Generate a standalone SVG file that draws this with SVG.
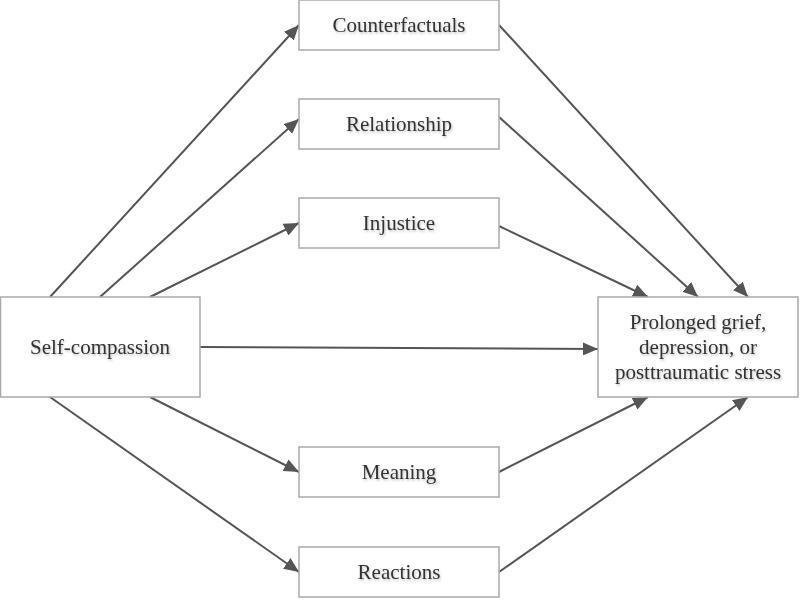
<svg xmlns="http://www.w3.org/2000/svg" width="800" height="600" viewBox="0 0 800 600">
<style>
.box{fill:#fff;stroke:#aaa;stroke-width:1.5}
.lbl{font-family:"Liberation Serif","Times New Roman",serif;font-size:21px;fill:#333;text-anchor:middle;filter:url(#sh)}
.edge{stroke:#555;stroke-width:2;fill:none;marker-end:url(#ah)}
</style>
<defs>
<marker id="ah" markerUnits="userSpaceOnUse" markerWidth="17" markerHeight="13" refX="15" refY="6.5" orient="auto">
<path d="M0,0 L15,6.5 L0,13 z" fill="#555"/>
</marker>
<filter id="sh" x="-10%" y="-20%" width="120%" height="150%">
<feDropShadow dx="1" dy="1.5" stdDeviation="0.8" flood-color="#000" flood-opacity="0.25"/>
</filter>
</defs>
<rect width="800" height="600" fill="#fff"/>
<g id="edges">
<line class="edge" x1="50" y1="297" x2="299" y2="25"/>
<line class="edge" x1="100" y1="297" x2="299" y2="119"/>
<line class="edge" x1="150" y1="297" x2="299" y2="223"/>
<line class="edge" x1="200" y1="347" x2="598" y2="349"/>
<line class="edge" x1="150" y1="397" x2="299" y2="472"/>
<line class="edge" x1="50" y1="397" x2="299" y2="572"/>
<line class="edge" x1="499" y1="25" x2="748" y2="297"/>
<line class="edge" x1="499" y1="117" x2="698" y2="297"/>
<line class="edge" x1="499" y1="226" x2="648" y2="297"/>
<line class="edge" x1="499" y1="472" x2="648" y2="397"/>
<line class="edge" x1="499" y1="572" x2="748" y2="397"/>
</g>
<g id="selfcompassion">
<rect class="box" x="0.5" y="297" width="199.5" height="100"/>
<text class="lbl" x="100" y="354">Self-compassion</text>
</g>
<g id="counterfactuals">
<rect class="box" x="299" y="0" width="200" height="50"/>
<text class="lbl" x="399" y="32">Counterfactuals</text>
</g>
<g id="relationship">
<rect class="box" x="299" y="99" width="200" height="50"/>
<text class="lbl" x="399" y="131">Relationship</text>
</g>
<g id="injustice">
<rect class="box" x="299" y="198" width="200" height="50"/>
<text class="lbl" x="399" y="230">Injustice</text>
</g>
<g id="meaning">
<rect class="box" x="299" y="447" width="200" height="50"/>
<text class="lbl" x="399" y="479">Meaning</text>
</g>
<g id="reactions">
<rect class="box" x="299" y="547" width="200" height="50"/>
<text class="lbl" x="399" y="579">Reactions</text>
</g>
<g id="outcome">
<rect class="box" x="598" y="297" width="200" height="100"/>
<text class="lbl" x="698" y="329">Prolonged grief,</text>
<text class="lbl" x="698" y="354">depression, or</text>
<text class="lbl" x="698" y="379">posttraumatic stress</text>
</g>
</svg>
